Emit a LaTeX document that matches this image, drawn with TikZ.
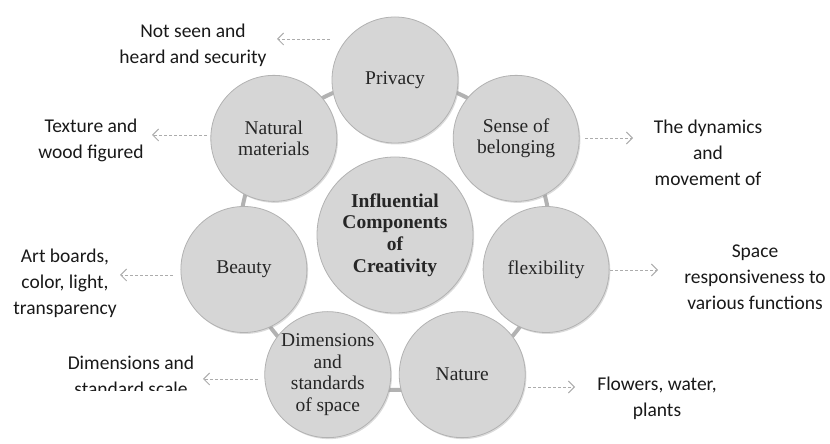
\documentclass[tikz,border=0pt]{standalone}
\usepackage{fontspec}
\setmainfont{Liberation Serif}
\newfontfamily\labfont{Carlito}
\usetikzlibrary{arrows.meta,shadows}
\begin{document}
\begin{tikzpicture}[x=1pt,y=1pt,
  petal/.style={circle, fill=gray!32, draw=gray!60, line width=0.8pt, minimum size=126pt, inner sep=0pt, align=center,
    font=\fontsize{19.5}{21.5}\selectfont, text=black!85,
    drop shadow={opacity=0.35, shadow xshift=1.2pt, shadow yshift=-1.5pt, fill=gray!80}},
  hub/.style={petal, minimum size=156pt, font=\bfseries\fontsize{19.5}{21.7}\selectfont},
  lab/.style={align=center, inner sep=0pt, text=black!90, font=\labfont\fontsize{19.5}{26}\selectfont},
  arr/.style={draw=gray!65, line width=0.9pt, dash pattern=on 3pt off 2pt, -{Straight Barb[length=6pt,width=12pt,line width=0.9pt]}},
  joint/.style={draw=gray!60, line width=4pt}
]
\useasboundingbox (0,0) rectangle (830,444);
\coordinate (C) at (395,209);
% small connectors between neighbouring circles
\foreach \a in {115.7,167.1,218.6,270,321.4,12.9,64.3}{
  \draw[joint] ([shift={(C)}]\a-3:155) arc[start angle=\a-3, end angle=\a+3, radius=155];
}
\node[hub] (hub) at (C) {Influential\\Components\\of\\Creativity};
\node[petal] (privacy) at ([shift={(C)}]90:155) {Privacy};
\node[petal] (natural) at ([shift={(C)}]141.43:155) {Natural\\materials};
\node[petal] (beauty) at ([shift={(C)}]192.86:155) {Beauty};
\node[petal] (dims) at ([shift={(C)}]244.29:155) {Dimensions\\and\\standards\\of space};
\node[petal] (nature) at ([shift={(C)}]295.71:155) {Nature};
\node[petal] (flex) at ([shift={(C)}]347.14:155) {flexibility};
\node[petal] (sense) at ([shift={(C)}]38.57:155) {Sense of\\belonging};

% labels
\node[lab] (l1) at (193,399) {Not seen and\\heard and security};
\node[lab] (l2) at (91,304) {Texture and\\wood figured};
\node[lab] (l3) at (708,291) {The dynamics\\and\\movement of};
\node[lab] (l4) at (65,161) {Art boards,\\color, light,\\transparency};
\node[lab] (l5) at (755,167) {Space\\responsiveness to\\various functions};
\begin{scope}
  \clip (0,53) rectangle (300,120);
  \node[lab] (l6) at (131,68) {Dimensions and\\standard scale};
\end{scope}
\node[lab] (l7) at (657,46) {Flowers, water,\\plants};

% arrows
\coordinate (a1s) at (330,405); \coordinate (a1e) at (277,405);
\coordinate (a2s) at (207,309); \coordinate (a2e) at (152,309);
\coordinate (a3s) at (585,306); \coordinate (a3e) at (633,306);
\coordinate (a4s) at (173,169); \coordinate (a4e) at (120,169);
\coordinate (a5s) at (610,174); \coordinate (a5e) at (658,174);
\coordinate (a6s) at (258,65);  \coordinate (a6e) at (203,65);
\coordinate (a7s) at (528,57);  \coordinate (a7e) at (575,57);
\draw[arr] (a1s) -- (a1e);
\draw[arr] (a2s) -- (a2e);
\draw[arr] (a3s) -- (a3e);
\draw[arr] (a4s) -- (a4e);
\draw[arr] (a5s) -- (a5e);
\draw[arr] (a6s) -- (a6e);
\draw[arr] (a7s) -- (a7e);
\end{tikzpicture}
\end{document}
